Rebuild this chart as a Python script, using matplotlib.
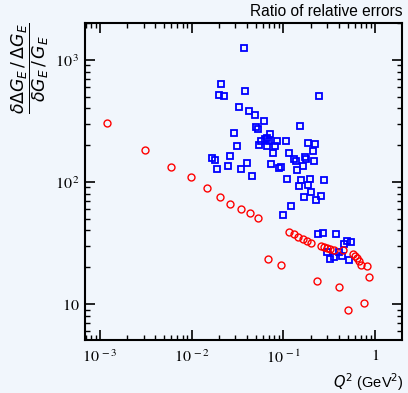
import matplotlib
matplotlib.use("Agg")
import matplotlib.pyplot as plt
from matplotlib.ticker import LogLocator, FixedLocator, FixedFormatter, NullFormatter

plt.rcParams['mathtext.fontset'] = 'stix'
plt.rcParams['font.family'] = ['Liberation Sans', 'DejaVu Sans']

# Ratio of relative errors, red circles
q2_red = [0.001213, 0.00314, 0.00602, 0.00975, 0.01456, 0.02016, 0.02654, 0.03435,
          0.0430, 0.05256, 0.0687, 0.0932, 0.1142, 0.1294, 0.1455, 0.162, 0.1805,
          0.200, 0.2595, 0.2804, 0.302, 0.326, 0.354, 0.4456, 0.230, 0.399, 0.50,
          0.569, 0.600, 0.628, 0.660, 0.701, 0.815, 0.861, 0.750]
ratio_red = [305, 183, 132.7, 109.9, 89.3, 75.4, 66.5, 60.1,
             55.1, 50.7, 23.4, 20.9, 39.0, 37.1, 35.5, 34.2, 32.7,
             31.6, 29.6, 29.2, 28.7, 28.2, 27.7, 27.5, 15.3, 13.8, 8.88,
             25.5, 24.7, 23.7, 22.6, 20.7, 20.5, 16.6, 10.2]

# Ratio of relative errors, blue squares
q2_blue = [0.03693, 0.02083, 0.01975, 0.02266, 0.03863, 0.2462, 0.03324, 0.04249,
           0.04876, 0.06168, 0.1530, 0.05087, 0.0531, 0.02897, 0.0710, 0.0577,
           0.0626, 0.0670, 0.0701, 0.0846, 0.1065, 0.0818, 0.1870, 0.2183, 0.0544,
           0.0662, 0.0316, 0.0763, 0.1148, 0.2077, 0.01683, 0.01778, 0.02654,
           0.1294, 0.1377, 0.1713, 0.1778, 0.2157, 0.01884, 0.02462, 0.03496,
           0.0406, 0.0731, 0.0905, 0.0939, 0.1621, 0.142, 0.0455, 0.1105, 0.1561,
           0.1927, 0.2790, 0.1474, 0.1837, 0.2015, 0.1670, 0.2557, 0.2284, 0.1213,
           0.100, 0.2401, 0.2701, 0.3769, 0.4603, 0.4925, 0.5484, 0.2971, 0.4062,
           0.326, 0.3584, 0.4335, 0.5177]
ratio_blue = [1259, 629, 510, 509, 557, 507, 407, 380,
              352, 316, 287, 283, 273, 253, 246, 218,
              225, 229, 218, 218, 218, 196, 208, 204, 202,
              195, 195, 173.5, 173.5, 178.5, 158, 151.5, 162.4,
              153.5, 148.4, 159.4, 152.6, 148.6, 127.1, 133.7, 127.6,
              142.3, 139.2, 130.3, 133.3, 135.3, 124.7, 112, 105.2, 103.3,
              105.2, 103.3, 92.7, 94.0, 82.7, 74.6, 76.3, 70.8, 63.8,
              53.6, 37.5, 38.2, 37.3, 31.0, 33.1, 32.2, 26.8, 26.8,
              23.5, 24.2, 24.5, 23.0]

x_ticks = [1e-3, 1e-2, 1e-1, 1]
x_tick_labels = [r'$10^{\,-3}$', r'$10^{\,-2}$', r'$10^{\,-1}$', r'$1$']
y_ticks = [10, 100, 1000]
y_tick_labels = [r'$10$', r'$10^{\,2}$', r'$10^{\,3}$']

bg = '#f1f6fc'
fig = plt.figure(figsize=(4.08, 3.93), dpi=100, facecolor=bg)
ax = fig.add_axes([85 / 408, 1 - 340 / 393, 317 / 408, 317 / 393])
ax.set_facecolor(bg)

ax.plot(q2_blue, ratio_blue, linestyle='none', marker='s', ms=4.9, mfc='none',
        mec='#0000ff', mew=1.3, zorder=3)
ax.plot(q2_red, ratio_red, linestyle='none', marker='o', ms=5.0, mfc='none',
        mec='#ff0000', mew=1.0, zorder=4)

ax.set_xscale('log')
ax.set_yscale('log')
ax.set_xlim(6.9e-4, 1.96)
ax.set_ylim(5.07, 2000)

ax.xaxis.set_major_locator(FixedLocator(x_ticks))
ax.xaxis.set_major_formatter(FixedFormatter(x_tick_labels))
ax.yaxis.set_major_locator(FixedLocator(y_ticks))
ax.yaxis.set_major_formatter(FixedFormatter(y_tick_labels))
for axis in (ax.xaxis, ax.yaxis):
    axis.set_minor_locator(LogLocator(base=10, subs=range(2, 10), numticks=20))
    axis.set_minor_formatter(NullFormatter())

ax.tick_params(which='both', direction='in', top=True, right=True, colors='black')
ax.tick_params(which='major', length=7, width=1.2, labelsize=11.5)
ax.tick_params(which='minor', length=3.5, width=1.0)
ax.tick_params(axis='x', pad=6)
ax.tick_params(axis='y', pad=4)
for s in ax.spines.values():
    s.set_linewidth(1.5)

fig.text(402 / 408, 1 - 11 / 393, 'Ratio of relative errors', ha='right', va='center',
         fontsize=11.2)
fig.text(404 / 408, 1 - 382 / 393, r'$Q^2$ (GeV$^2$)', ha='right', va='center',
         fontsize=10.5, math_fontfamily='dejavusans')
fig.text(30 / 408, 1 - 68 / 393,
         r'$\dfrac{\delta\Delta G_E\,/\,\Delta G_E}{\delta G_E\,/\,G_E}$',
         rotation=90, ha='center', va='center', fontsize=12.5,
         math_fontfamily='dejavusans')

fig.savefig('out.png', dpi=100, facecolor=bg)
